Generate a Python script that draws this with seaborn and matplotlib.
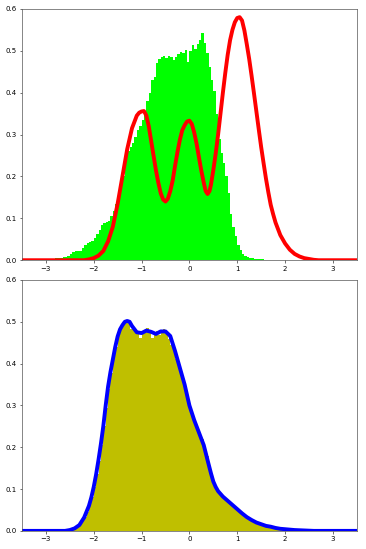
import pandas as pd
import matplotlib
matplotlib.use("Agg")
import matplotlib.pyplot as plt
import seaborn as sns

# top panel: green histogram (density per bin, bin width 0.05, first bin starts at -3.0)
top_bin_start = -3.0
top_bin_width = 0.05
top_hist = [
    0.002, 0.002, 0.003, 0.004, 0.005, 0.005, 0.006, 0.008, 0.008, 0.011,
    0.016, 0.019, 0.021, 0.022, 0.023, 0.028, 0.036, 0.040, 0.043, 0.046,
    0.052, 0.062, 0.072, 0.085, 0.090, 0.092, 0.094, 0.106, 0.118, 0.135,
    0.155, 0.180, 0.200, 0.250, 0.260, 0.270, 0.280, 0.295, 0.310, 0.320,
    0.335, 0.355, 0.380, 0.400, 0.430, 0.437, 0.470, 0.480, 0.486, 0.488,
    0.482, 0.488, 0.485, 0.478, 0.486, 0.492, 0.498, 0.494, 0.502, 0.472,
    0.500, 0.514, 0.505, 0.515, 0.526, 0.542, 0.518, 0.495, 0.462, 0.430,
    0.405, 0.350, 0.290, 0.255, 0.232, 0.200, 0.160, 0.110, 0.080, 0.058,
    0.036, 0.024, 0.016, 0.011, 0.008, 0.006, 0.005, 0.004, 0.003, 0.002,
    0.002, 0.001, 0.001, 0.0005, 0.0005,
]

# top panel: red curve
red_x = [-3.5, -2.2, -2.1, -2.0, -1.9, -1.8, -1.7, -1.6, -1.5, -1.4, -1.3, -1.2,
         -1.1, -1.05, -1.0, -0.95, -0.9, -0.85, -0.8, -0.75, -0.7, -0.65, -0.6,
         -0.55, -0.5, -0.45, -0.4, -0.35, -0.3, -0.25, -0.2, -0.15, -0.1, -0.05,
         0.0, 0.05, 0.1, 0.15, 0.2, 0.25, 0.3, 0.34, 0.38, 0.42, 0.45, 0.5, 0.55,
         0.6, 0.65, 0.7, 0.75, 0.8, 0.85, 0.9, 0.95, 1.0, 1.05, 1.1, 1.15, 1.2,
         1.25, 1.3, 1.35, 1.4, 1.45, 1.5, 1.55, 1.6, 1.65, 1.7, 1.75, 1.8, 1.9,
         2.0, 2.1, 2.2, 2.3, 2.4, 2.5, 2.6, 2.7, 3.5]
red_y = [0.0, 0.0, 0.002, 0.005, 0.011, 0.022, 0.045, 0.08, 0.135, 0.2, 0.265, 0.315,
         0.345, 0.352, 0.355, 0.356, 0.345, 0.32, 0.285, 0.25, 0.215, 0.185, 0.16,
         0.145, 0.14, 0.147, 0.165, 0.19, 0.225, 0.258, 0.287, 0.31, 0.322, 0.331,
         0.333, 0.325, 0.305, 0.278, 0.245, 0.213, 0.185, 0.165, 0.158, 0.165, 0.18, 0.215, 0.255,
         0.3, 0.35, 0.4, 0.447, 0.49, 0.525, 0.55, 0.568, 0.578, 0.58, 0.572, 0.548, 0.515,
         0.48, 0.44, 0.398, 0.355, 0.312, 0.27, 0.232, 0.195, 0.162, 0.132, 0.11, 0.09, 0.06,
         0.04, 0.025, 0.015, 0.009, 0.005, 0.003, 0.001, 0.0, 0.0]

# bottom panel: olive histogram (bin width 0.05, first bin starts at -2.6)
bot_bin_start = -2.6
bot_bin_width = 0.05
bot_hist = [
    0.001, 0.002, 0.003, 0.005, 0.007, 0.011, 0.016, 0.024, 0.034, 0.046,
    0.062, 0.080, 0.105, 0.135, 0.168, 0.205, 0.250, 0.295, 0.340, 0.378,
    0.410, 0.440, 0.465, 0.482, 0.494, 0.500, 0.498, 0.482, 0.485, 0.478,
    0.470, 0.462, 0.475, 0.478, 0.485, 0.476, 0.462, 0.470, 0.478, 0.468,
    0.480, 0.482, 0.470, 0.460, 0.445, 0.430, 0.412, 0.400, 0.380, 0.360,
    0.340, 0.315, 0.290, 0.275, 0.260, 0.245, 0.235, 0.220, 0.200, 0.180,
    0.155, 0.130, 0.113, 0.100, 0.092, 0.086, 0.082, 0.077, 0.072, 0.068,
    0.062, 0.056, 0.050, 0.045, 0.040, 0.036, 0.032, 0.028, 0.025, 0.022,
    0.019, 0.017, 0.015, 0.013, 0.011, 0.010, 0.009, 0.008, 0.007, 0.006,
    0.005, 0.004, 0.004, 0.003, 0.003, 0.002, 0.002, 0.002, 0.001, 0.001,
]

# bottom panel: blue curve
blue_x = [-3.5, -2.6, -2.5, -2.4, -2.3, -2.2, -2.1, -2.05, -2.0, -1.95, -1.9, -1.85,
          -1.8, -1.75, -1.7, -1.65, -1.6, -1.55, -1.5, -1.45, -1.4, -1.35, -1.3, -1.25,
          -1.2, -1.1, -1.0, -0.9, -0.8, -0.7, -0.6, -0.5, -0.4, -0.3, -0.2, -0.1,
          0.0, 0.1, 0.2, 0.3, 0.4, 0.45, 0.5, 0.55, 0.6, 0.7, 0.8, 0.9, 1.0,
          1.1, 1.2, 1.3, 1.4, 1.5, 1.6, 1.7, 1.8, 1.9, 2.0, 2.2, 2.4, 2.6, 3.5]
blue_y = [0.0, 0.0, 0.002, 0.006, 0.014, 0.032, 0.06, 0.08, 0.105, 0.135, 0.17, 0.208,
          0.25, 0.3, 0.345, 0.38, 0.41, 0.44, 0.465, 0.482, 0.492, 0.5, 0.502, 0.5,
          0.49, 0.475, 0.473, 0.479, 0.476, 0.471, 0.477, 0.477, 0.466, 0.43, 0.39, 0.35,
          0.30, 0.265, 0.235, 0.205, 0.16, 0.138, 0.118, 0.105, 0.095, 0.082, 0.072, 0.062, 0.052,
          0.042, 0.033, 0.026, 0.02, 0.016, 0.012, 0.01, 0.007, 0.005, 0.004, 0.002, 0.001, 0.0, 0.0]

plt.rcParams.update({
    "font.size": 5,
    "axes.linewidth": 0.5,
    "xtick.major.width": 0.4,
    "ytick.major.width": 0.4,
    "xtick.major.size": 1.8,
    "ytick.major.size": 1.8,
    "xtick.major.pad": 2,
    "ytick.major.pad": 2,
    "axes.edgecolor": "#555555",
})

fig = plt.figure(figsize=(3.66, 5.49), dpi=100)
ax1 = fig.add_axes([0.060, 0.526, 0.915, 0.458])
ax2 = fig.add_axes([0.060, 0.033, 0.915, 0.457])


def draw_panel(ax, start, width, heights, hist_color, line_x, line_y, line_color):
    edges = [start + width * i for i in range(len(heights) + 1)]
    df = pd.DataFrame({
        "x": [start + width * (i + 0.5) for i in range(len(heights))],
        "h": heights,
    })
    sns.histplot(data=df, x="x", weights="h", bins=edges, color=hist_color,
                 alpha=1, linewidth=0, ax=ax)
    sns.lineplot(x=line_x, y=line_y, color=line_color, linewidth=2.8,
                 solid_joinstyle="round", solid_capstyle="round", ax=ax)
    ax.set_xlim(-3.5, 3.5)
    ax.set_ylim(0, 0.6)
    ax.set_xticks([-3, -2, -1, 0, 1, 2, 3])
    ax.set_yticks([0.0, 0.1, 0.2, 0.3, 0.4, 0.5, 0.6])
    ax.set_xlabel("")
    ax.set_ylabel("")


draw_panel(ax1, top_bin_start, top_bin_width, top_hist, "#00ff00", red_x, red_y, "red")
draw_panel(ax2, bot_bin_start, bot_bin_width, bot_hist, "#bfbf00", blue_x, blue_y, "blue")

fig.savefig("out.png", dpi=100)
